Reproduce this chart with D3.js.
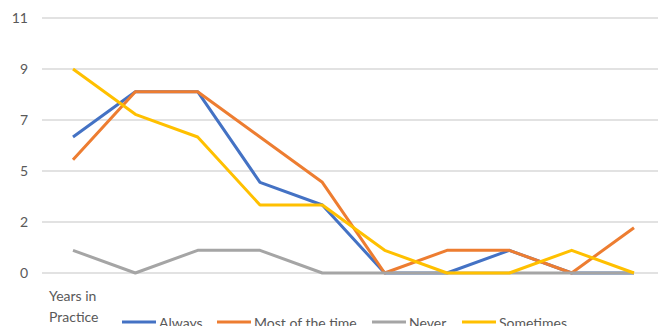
<!DOCTYPE html>
<html><head><meta charset="utf-8">
<script src="https://cdn.jsdelivr.net/npm/d3@7"></script>
<style>body{margin:0;background:#fff;overflow:hidden}svg{display:block;font-family:Lato,"Open Sans",sans-serif}</style>
</head><body><svg id="c" width="658" height="326"></svg>
<script>
const categories = ["1","2","3","4","5","6","7","8","9","10"];
const always = [6, 8, 8, 4, 3, 0, 0, 1, 0, 0];
const mostOfTheTime = [5, 8, 8, 6, 4, 0, 1, 1, 0, 2];
const never = [1, 0, 1, 1, 0, 0, 0, 0, 0, 0];
const sometimes = [9, 7, 6, 3, 3, 1, 0, 0, 1, 0];
const yTickValues = [0, 2.25, 4.5, 6.75, 9, 11.25];
const yTickLabels = ["0", "2", "5", "7", "9", "11"];
const seriesNames = ["Always", "Most of the time", "Never", "Sometimes"];
const axisTitle = ["Years in", "Practice"];

const series = [
  {name: seriesNames[0], values: always, color: "#4472C4"},
  {name: seriesNames[1], values: mostOfTheTime, color: "#ED7D31"},
  {name: seriesNames[2], values: never, color: "#A5A5A5"},
  {name: seriesNames[3], values: sometimes, color: "#FFC000"}
];

const svg = d3.select("#c");
const x = d3.scalePoint().domain(categories).range([73, 634]);
const y = d3.scaleLinear().domain([0, 11.25]).range([273, 18]);

// gridlines
svg.append("g").selectAll("line").data(yTickValues).join("line")
  .attr("x1", 42).attr("x2", 658)
  .attr("y1", d => y(d)).attr("y2", d => y(d))
  .attr("stroke", "#D9D9D9").attr("stroke-width", 1.5);

// y labels
svg.append("g").selectAll("text").data(yTickValues).join("text")
  .attr("x", 28).attr("y", d => y(d)).attr("dy", "0.35em")
  .attr("text-anchor", "end").attr("font-size", 14).attr("fill", "#595959")
  .text((d, i) => yTickLabels[i]);

const line = d3.line().x((d, i) => x(categories[i])).y(d => y(d));
svg.append("g").selectAll("path").data(series).join("path")
  .attr("d", s => line(s.values)).attr("fill", "none")
  .attr("stroke", s => s.color).attr("stroke-width", 3)
  .attr("stroke-linejoin", "round");

// axis title
svg.append("g").selectAll("text").data(axisTitle).join("text")
  .attr("x", 49).attr("y", (d, i) => 296 + i * 21).attr("dy", "0.35em")
  .attr("font-size", 14).attr("fill", "#595959").text(d => d);

// legend
const legendX = [122, 217, 372, 462];
const lg = svg.append("g").selectAll("g").data(series).join("g")
  .attr("transform", (d, i) => `translate(${legendX[i]},322)`);
lg.append("line").attr("x1", 0).attr("x2", 34).attr("stroke", d => d.color).attr("stroke-width", 3);
lg.append("text").attr("x", 37).attr("y", 6).attr("font-size", 14)
  .attr("fill", "#595959").text(d => d.name);
</script></body></html>
